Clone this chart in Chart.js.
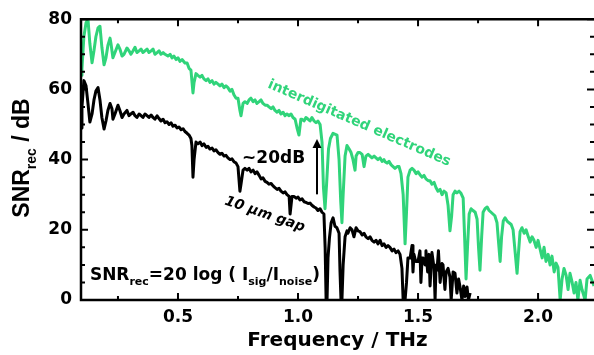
<!DOCTYPE html>
<html>
<head>
<meta charset="utf-8">
<script src="https://cdn.jsdelivr.net/npm/chart.js@4.4.1/dist/chart.umd.min.js"></script>
<style>
  html, body { margin: 0; padding: 0; background: #fff; }
</style>
</head>
<body>
<canvas id="chart" width="594" height="355"></canvas>
<script>
// interdigitated electrodes trace (THz, dB)
const freqElectrodes = [
  0.096, 0.100, 0.108, 0.117, 0.125, 0.133, 0.142, 0.150, 0.158, 0.167,
  0.175, 0.183, 0.192, 0.200, 0.208, 0.217, 0.221, 0.229, 0.2375, 0.250,
  0.258, 0.267, 0.275, 0.2875, 0.296, 0.304, 0.313, 0.321, 0.329, 0.338,
  0.346, 0.354, 0.3625, 0.371, 0.379, 0.388, 0.396, 0.404, 0.413, 0.421,
  0.429, 0.438, 0.446, 0.458, 0.467, 0.475, 0.483, 0.492, 0.500, 0.508,
  0.517, 0.529, 0.538, 0.546, 0.554, 0.5625, 0.567, 0.575, 0.583, 0.592,
  0.600, 0.608, 0.617, 0.625, 0.633, 0.642, 0.650, 0.658, 0.667, 0.675,
  0.683, 0.692, 0.700, 0.708, 0.717, 0.725, 0.733, 0.742, 0.750, 0.758,
  0.7625, 0.771, 0.779, 0.788, 0.796, 0.804, 0.813, 0.821, 0.829, 0.838,
  0.846, 0.854, 0.863, 0.871, 0.879, 0.888, 0.896, 0.904, 0.913, 0.921,
  0.929, 0.938, 0.946, 0.954, 0.963, 0.971, 0.979, 0.988, 0.996, 1.004,
  1.012, 1.017, 1.025, 1.033, 1.042, 1.050, 1.058, 1.067, 1.075, 1.083,
  1.092, 1.100, 1.106, 1.1125, 1.119, 1.127, 1.135, 1.146, 1.1625, 1.171,
  1.178, 1.183, 1.188, 1.196, 1.204, 1.213, 1.221, 1.229, 1.2375, 1.242,
  1.250, 1.258, 1.267, 1.275, 1.283, 1.292, 1.300, 1.308, 1.317, 1.325,
  1.333, 1.342, 1.350, 1.358, 1.3625, 1.371, 1.379, 1.388, 1.396, 1.404,
  1.413, 1.421, 1.429, 1.438, 1.446, 1.452, 1.458, 1.467, 1.475, 1.483,
  1.492, 1.500, 1.508, 1.517, 1.525, 1.533, 1.542, 1.550, 1.558, 1.567,
  1.575, 1.583, 1.592, 1.600, 1.608, 1.617, 1.625, 1.633, 1.640, 1.646,
  1.654, 1.662, 1.671, 1.679, 1.688, 1.694, 1.700, 1.706, 1.713, 1.721,
  1.729, 1.738, 1.746, 1.752, 1.758, 1.765, 1.771, 1.779, 1.788, 1.796,
  1.804, 1.812, 1.820, 1.829, 1.836, 1.842, 1.848, 1.855, 1.8625, 1.871,
  1.879, 1.888, 1.896, 1.904, 1.9125, 1.918, 1.925, 1.933, 1.942, 1.950,
  1.958, 1.967, 1.975, 1.983, 1.992, 2.000, 2.008, 2.017, 2.025, 2.033,
  2.042, 2.050, 2.058, 2.067, 2.075, 2.083, 2.092, 2.100, 2.108, 2.117,
  2.125, 2.133, 2.142, 2.150, 2.158, 2.166, 2.175, 2.183, 2.196, 2.204, 2.217, 2.233
];
const snrElectrodes = [
  64, 66, 75, 79, 80, 73, 67.6, 71, 75, 77.5,
  78, 72, 67, 69, 72.5, 74.6, 73, 69, 70.5, 72.7,
  71.5, 69.5, 70, 71.8, 71, 70, 71, 72, 70.5, 71,
  71.5, 70.5, 71, 71.5, 70.5, 71, 71.5, 70, 70.5, 71,
  70, 70.5, 70, 69.5, 70, 69, 69.5, 68.5, 69, 68,
  68.5, 67.5, 67.5, 66, 65.5, 59, 62, 64.5, 64, 63.5,
  64, 63, 62.5, 63, 62, 62.5, 61.5, 62, 61.5, 61,
  61.5, 60.5, 61, 60.5, 59.5, 60, 58.5, 57.5, 57.5, 54,
  52.5, 56, 56.5, 56, 57, 57.5, 56.5, 57, 56, 56.5,
  57, 56, 55.5, 55.5, 55, 54.5, 55, 54, 53.5, 54,
  53, 53.5, 52.5, 53, 52.5, 53, 52, 51.5, 49, 47,
  51.5, 51.5, 51, 52, 51.5, 51, 52, 51, 50.5, 51,
  50, 45, 32, 26, 33, 43, 46, 47.5, 47, 40,
  28, 22, 30, 41, 44, 43, 42, 40, 37, 41,
  42, 42, 41.5, 38, 41, 41.5, 41, 40.5, 41, 40.5,
  40, 40.5, 39.5, 40, 39.4, 39, 39.5, 38.5, 38, 37.5,
  38, 38, 36, 30, 16, 25, 35, 37, 37.5, 37,
  36, 36.5, 35.7, 35, 35.5, 34.5, 34, 34, 33, 33.5,
  32, 31, 31.5, 30, 31, 30.5, 27, 19.7, 24, 30,
  31, 30.5, 31, 30.4, 29, 18, 6, 15, 24.5, 26,
  25.5, 25, 23, 15, 8.5, 18, 25, 26, 26.5, 25.5,
  25, 24.5, 24, 22, 16, 11, 18, 22.5, 23.4, 22.5,
  22, 21.5, 20, 14, 7.6, 13, 19.5, 20.6, 19, 20,
  18.3, 16.5, 18, 17, 15, 17, 14.6, 12, 15, 11,
  13, 10, 12.5, 8, 10.5, 9.3, 0, 6, 9, 7,
  3, 7.6, 5, 2, 5, 0, 5.6, 3, 0, 6, 7, 4
];

// 10 um gap trace (THz, dB)
const freqGap = [
  0.096, 0.100, 0.108, 0.117, 0.125, 0.133, 0.142, 0.150, 0.158, 0.167,
  0.175, 0.183, 0.192, 0.200, 0.208, 0.217, 0.225, 0.229, 0.2375, 0.250,
  0.258, 0.267, 0.275, 0.2875, 0.296, 0.304, 0.313, 0.321, 0.329, 0.338,
  0.346, 0.354, 0.3625, 0.371, 0.379, 0.388, 0.396, 0.404, 0.413, 0.421,
  0.429, 0.438, 0.446, 0.454, 0.463, 0.471, 0.479, 0.488, 0.496, 0.504,
  0.513, 0.521, 0.529, 0.538, 0.546, 0.554, 0.558, 0.5625, 0.567, 0.575,
  0.583, 0.592, 0.600, 0.608, 0.617, 0.625, 0.633, 0.642, 0.650, 0.658,
  0.667, 0.675, 0.683, 0.692, 0.700, 0.708, 0.717, 0.725, 0.733, 0.742,
  0.750, 0.758, 0.7625, 0.771, 0.779, 0.788, 0.796, 0.804, 0.813, 0.821,
  0.829, 0.838, 0.846, 0.854, 0.863, 0.871, 0.879, 0.888, 0.896, 0.904,
  0.913, 0.921, 0.929, 0.938, 0.946, 0.954, 0.963, 0.967, 0.975, 0.983,
  0.992, 1.000, 1.008, 1.017, 1.025, 1.033, 1.042, 1.050, 1.058, 1.067,
  1.075, 1.083, 1.092, 1.100, 1.108, 1.113, 1.117, 1.121, 1.125, 1.131,
  1.138, 1.146, 1.154, 1.162, 1.171, 1.175, 1.179, 1.183, 1.188, 1.196,
  1.204, 1.208, 1.217, 1.225, 1.233, 1.242, 1.250, 1.258, 1.267, 1.275,
  1.283, 1.292, 1.300, 1.308, 1.317, 1.325, 1.333, 1.342, 1.350, 1.358,
  1.367, 1.375, 1.383, 1.392, 1.400, 1.408, 1.417, 1.425, 1.433, 1.438,
  1.446, 1.452, 1.458, 1.467, 1.475, 1.479, 1.483, 1.490, 1.500, 1.508,
  1.512, 1.517, 1.521, 1.529, 1.533, 1.540, 1.546, 1.550, 1.558, 1.567,
  1.571, 1.575, 1.579, 1.585, 1.592, 1.600, 1.604, 1.612, 1.617, 1.625,
  1.633, 1.638, 1.646, 1.654, 1.662, 1.669, 1.675, 1.683, 1.690, 1.696,
  1.704, 1.710, 1.717
];
const snrGap = [
  49, 55, 62.5, 61, 56, 50.7, 53, 57, 59.5, 60.5,
  57, 52, 48.7, 51, 54, 56, 54.5, 51.5, 53, 55.5,
  54, 52, 53, 54, 52.5, 53, 53.5, 52.5, 52, 53,
  52.5, 52, 53, 52.5, 52, 52.7, 52, 51.5, 52.5, 51.7,
  51, 51.5, 50.5, 50.8, 50, 50.5, 49.5, 49.8, 49, 49.3,
  48.5, 48.8, 48, 47.5, 47, 46, 44, 35, 40, 45,
  44.5, 45, 44, 44.5, 43.5, 43.8, 43, 43.3, 42.5, 42.8,
  42, 41.5, 41.8, 41, 41.2, 40.5, 40, 40.2, 39.4, 39,
  38, 31, 33, 37, 37.5, 37, 37.5, 36.5, 37, 36,
  36.5, 35.5, 34.5, 34.8, 33.8, 33.5, 33, 33.2, 32.5, 32,
  31.5, 31.8, 31, 30.5, 30.8, 30, 29.5, 24.5, 29.5, 29.5,
  29, 29.3, 28.5, 28.8, 28, 27.8, 27.5, 27.6, 27, 26.5,
  26.2, 25.5, 26, 25, 24.5, 15, 0, 0, 12, 17.7,
  22, 23.4, 21, 20.6, 19, 8, 0, 0, 10, 18,
  19.7, 19, 20.6, 20, 18, 20.6, 19.7, 19.5, 18.5, 19,
  18, 17.5, 18, 17, 16.5, 17, 16, 17, 15.5, 16,
  15, 15.5, 15, 14, 14.5, 13.5, 14, 13, 9, 0,
  0, 5, 12, 12, 15.5, 8, 13, 11, 11, 14,
  5, 12, 12, 10, 14, 8, 13, 4, 13.5, 9,
  0, 10, 8.5, 14, 5, 10.4, 10, 3, 8, 9,
  6.5, 0, 8, 7.6, 2, 6, 3.7, 0, 4, 1,
  3.7, 0, 2
];

const freqTicks = [0.5, 1.0, 1.5, 2.0];
const freqTickMarks = [0.25, 0.5, 0.75, 1.0, 1.25, 1.5, 1.75, 2.0];
const snrTicks = [0, 20, 40, 60, 80];
const snrTickMarks = [0, 5, 10, 15, 20, 25, 30, 35, 40, 45, 50, 55, 60, 65, 70, 75, 80];

const GREEN = '#30d47a';
const FONT = '"DejaVu Sans", sans-serif';
const TITLE_FONT = '"Liberation Sans", Arial, sans-serif';

function toPoints(xs, ys) {
  return xs.map((x, i) => ({ x, y: ys[i] }));
}

// draws a row of text pieces, some as subscripts
function drawRuns(ctx, x, y, runs, family = FONT) {
  runs.forEach(r => {
    ctx.font = `bold ${r.size}px ${family}`;
    ctx.fillText(r.text, x, y + (r.dy || 0));
    x += ctx.measureText(r.text).width;
  });
}

function runsWidth(ctx, runs, family = FONT) {
  return runs.reduce((w, r) => {
    ctx.font = `bold ${r.size}px ${family}`;
    return w + ctx.measureText(r.text).width;
  }, 0);
}

const decorations = {
  id: 'decorations',
  beforeDraw(chart) {
    const ctx = chart.ctx;
    ctx.save();
    ctx.fillStyle = '#fff';
    ctx.fillRect(0, 0, chart.width, chart.height);
    ctx.restore();
  },
  afterDraw(chart) {
    const { ctx, chartArea: a, scales: { x, y } } = chart;
    ctx.save();

    // frame
    ctx.strokeStyle = '#000';
    ctx.lineWidth = 2.5;
    ctx.beginPath();
    ctx.moveTo(a.right + 2, a.top);
    ctx.lineTo(a.left, a.top);
    ctx.lineTo(a.left, a.bottom);
    ctx.lineTo(a.right + 2, a.bottom);
    ctx.stroke();

    // inward ticks
    ctx.lineWidth = 2;
    ctx.beginPath();
    freqTickMarks.forEach(v => {
      const px = x.getPixelForValue(v);
      const len = freqTicks.includes(v) ? 7 : 4;
      ctx.moveTo(px, a.bottom); ctx.lineTo(px, a.bottom - len);
      ctx.moveTo(px, a.top); ctx.lineTo(px, a.top + len);
    });
    snrTickMarks.forEach(v => {
      const py = y.getPixelForValue(v);
      const len = snrTicks.includes(v) ? 7 : 4;
      ctx.moveTo(a.left, py); ctx.lineTo(a.left + len, py);
      ctx.moveTo(a.right, py); ctx.lineTo(a.right - len, py);
    });
    ctx.stroke();

    // y axis title with subscript
    ctx.fillStyle = '#000';
    ctx.textBaseline = 'alphabetic';
    ctx.textAlign = 'left';
    const yTitle = [
      { text: 'SNR', size: 23 },
      { text: 'rec', size: 14, dy: 7 },
      { text: ' / dB', size: 23 }
    ];
    ctx.save();
    ctx.translate(29, 158);
    ctx.rotate(-Math.PI / 2);
    drawRuns(ctx, -runsWidth(ctx, yTitle, TITLE_FONT) / 2, 0, yTitle, TITLE_FONT);
    ctx.restore();

    // SNR formula
    drawRuns(ctx, x.getPixelForValue(0.133), y.getPixelForValue(5.6), [
      { text: 'SNR', size: 17 },
      { text: 'rec', size: 11, dy: 5 },
      { text: '=20 log ( I', size: 17 },
      { text: 'sig', size: 11, dy: 5 },
      { text: '/I', size: 17 },
      { text: 'noise', size: 11, dy: 5 },
      { text: ')', size: 17 }
    ]);

    // ~20dB label and arrow
    ctx.font = `bold 17px ${FONT}`;
    ctx.fillText('~20dB', x.getPixelForValue(0.767), y.getPixelForValue(38.9));
    const ax = x.getPixelForValue(1.079);
    const ay0 = y.getPixelForValue(30.1);
    const ay1 = y.getPixelForValue(45.9);
    ctx.lineWidth = 2;
    ctx.beginPath();
    ctx.moveTo(ax, ay0);
    ctx.lineTo(ax, ay1 + 6);
    ctx.stroke();
    ctx.beginPath();
    ctx.moveTo(ax, ay1);
    ctx.lineTo(ax - 4.5, ay1 + 9);
    ctx.lineTo(ax + 4.5, ay1 + 9);
    ctx.closePath();
    ctx.fill();

    // rotated trace labels
    ctx.save();
    ctx.translate(x.getPixelForValue(0.871), y.getPixelForValue(60.6));
    ctx.rotate(23.5 * Math.PI / 180);
    ctx.fillStyle = GREEN;
    ctx.font = `bold 14px ${FONT}`;
    ctx.fillText('interdigitated electrodes', 0, 0);
    ctx.restore();

    ctx.save();
    ctx.translate(x.getPixelForValue(0.692), y.getPixelForValue(27.3));
    ctx.rotate(19 * Math.PI / 180);
    ctx.fillStyle = '#000';
    ctx.font = `italic bold 14px ${FONT}`;
    ctx.fillText('10 µm gap', 0, 0);
    ctx.restore();

    ctx.restore();
  }
};

const tickFont = { family: FONT, size: 17, weight: 'bold' };

new Chart(document.getElementById('chart'), {
  type: 'line',
  data: {
    datasets: [
      {
        label: 'interdigitated electrodes',
        data: toPoints(freqElectrodes, snrElectrodes),
        borderColor: GREEN,
        borderWidth: 3,
        pointRadius: 0,
        tension: 0,
        borderJoinStyle: 'round'
      },
      {
        label: '10 µm gap',
        data: toPoints(freqGap, snrGap),
        borderColor: '#000',
        borderWidth: 3,
        pointRadius: 0,
        tension: 0,
        borderJoinStyle: 'round'
      }
    ]
  },
  options: {
    responsive: false,
    animation: false,
    layout: { padding: { top: 16, right: 0, left: 0, bottom: 0 } },
    plugins: {
      legend: { display: false },
      tooltip: { enabled: false }
    },
    scales: {
      x: {
        type: 'linear',
        min: 0.096,
        max: 2.233,
        afterBuildTicks: s => { s.ticks = freqTicks.map(v => ({ value: v })); },
        afterFit: s => { s.height = 55; },
        grid: { display: false, drawTicks: false },
        border: { display: false },
        ticks: {
          padding: 7,
          color: '#000',
          font: tickFont,
          callback: v => v.toFixed(1)
        },
        title: {
          display: true,
          text: 'Frequency / THz',
          color: '#000',
          font: { family: FONT, size: 20, weight: 'bold' },
          padding: { top: 0, bottom: 2 }
        }
      },
      y: {
        min: 0,
        max: 80,
        afterBuildTicks: s => { s.ticks = snrTicks.map(v => ({ value: v })); },
        afterFit: s => { s.width = 81; },
        grid: { display: false, drawTicks: false },
        border: { display: false },
        ticks: {
          padding: 9,
          color: '#000',
          font: tickFont
        }
      }
    }
  },
  plugins: [decorations]
});
</script>
</body>
</html>
